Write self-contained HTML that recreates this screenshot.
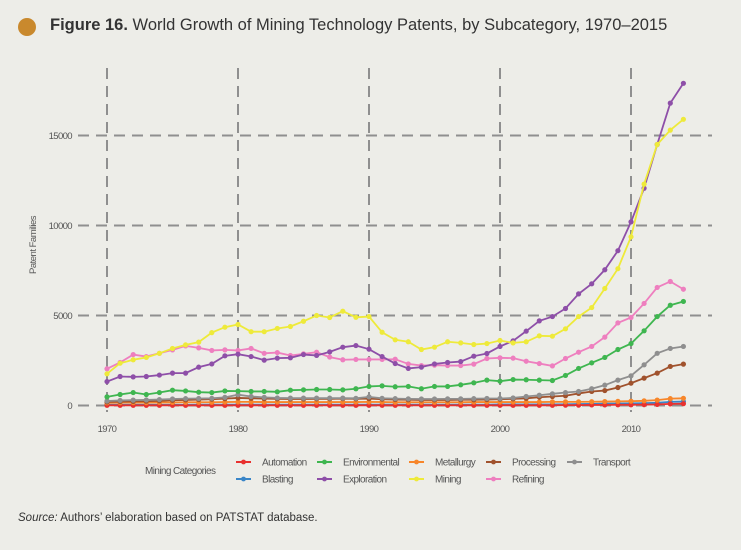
<!DOCTYPE html>
<html><head><meta charset="utf-8"><style>
html,body{margin:0;padding:0;background:#edede8;}
body{width:741px;height:550px;background:#edede8;position:relative;overflow:hidden;font-family:"Liberation Sans",sans-serif;}
.t{position:absolute;left:50px;top:16px;font-size:16.5px;color:#333;}
.dot{position:absolute;left:18px;top:18px;width:18px;height:18px;border-radius:50%;background:#c9892d;}
.src{position:absolute;left:18px;top:512px;font-size:11.5px;color:#333;}
svg text{font-family:"Liberation Sans",sans-serif;fill:#555;}
</style></head><body>
<div class="dot"></div>
<div class="t"><b>Figure 16.</b> World Growth of Mining Technology Patents, by Subcategory, 1970–2015</div>
<svg id="c" width="741" height="550" style="position:absolute;left:0;top:0"></svg>
<div class="src"><i>Source:</i> Authors’ elaboration based on PATSTAT database.</div>
<script>
const years=[];for(let y=1970;y<=2014;y++)years.push(y);
const xTicks=[1970,1980,1990,2000,2010];
const yTicks=[0,5000,10000,15000];
const seriesNames=["Automation","Blasting","Environmental","Exploration","Metallurgy","Mining","Processing","Refining","Transport"];
const colors=["#e8312f","#3a86c8","#3fb650","#8e4fa8","#f7862a","#eeea3a","#a0522d","#ee7fbf","#8f8f8f"];
const automation=[10,10,10,10,10,10,10,10,10,10,10,10,10,10,10,10,10,10,10,10,10,10,10,10,10,10,10,10,10,10,10,10,10,10,10,20,20,30,30,40,40,50,60,90,100];
const blasting=[40,40,40,40,40,40,40,50,50,50,50,50,50,50,50,50,50,50,50,50,50,50,50,50,50,50,50,50,50,50,60,60,60,60,60,70,80,90,100,110,120,130,150,200,220];
const environmental=[480,610,720,610,720,850,810,740,720,810,800,780,780,760,850,870,890,890,870,930,1060,1090,1040,1060,930,1060,1060,1150,1260,1410,1350,1440,1430,1410,1390,1670,2060,2370,2670,3110,3440,4150,4940,5570,5780];
const exploration=[1330,1610,1590,1610,1690,1800,1800,2130,2310,2760,2850,2720,2520,2630,2650,2830,2780,2980,3240,3330,3130,2720,2330,2060,2130,2310,2390,2440,2740,2890,3280,3590,4130,4700,4940,5390,6200,6760,7540,8600,10200,12070,14500,16800,17900];
const metallurgy=[150,160,160,160,170,170,180,180,180,190,200,200,190,190,190,190,190,190,190,190,200,190,180,180,180,180,180,180,190,190,190,190,190,190,200,200,200,210,220,230,240,260,300,380,400];
const mining=[1760,2350,2540,2670,2900,3170,3370,3520,4050,4350,4500,4100,4100,4280,4390,4680,5000,4890,5240,4900,4940,4070,3650,3540,3110,3240,3540,3480,3390,3440,3610,3480,3540,3870,3850,4260,4940,5440,6500,7600,9370,12300,14500,15300,15900];
const processing=[200,220,230,240,260,290,310,330,350,380,420,400,380,370,360,360,370,370,380,370,380,350,330,320,310,310,310,320,320,330,350,370,400,460,500,540,670,780,830,1000,1240,1520,1800,2170,2300];
const refining=[2040,2390,2830,2720,2900,3090,3310,3200,3060,3090,3060,3170,2900,2940,2780,2870,2960,2690,2540,2560,2560,2560,2570,2310,2220,2240,2220,2220,2300,2610,2650,2630,2460,2330,2200,2610,2960,3280,3800,4590,4890,5670,6560,6890,6460];
const transport=[250,280,300,310,330,360,380,390,400,450,600,500,450,420,410,410,410,410,410,400,480,400,380,370,360,360,370,370,380,390,390,420,500,570,650,720,780,930,1130,1410,1650,2260,2900,3170,3280];
const data=[automation,blasting,environmental,exploration,metallurgy,mining,processing,refining,transport];
const drawOrder=[1,0,4,6,8,2,7,3,5];
const X=y=>107+(y-1970)*13.1;
const Y=v=>405.5-v*0.018;
const svg=document.getElementById('c');const NS='http://www.w3.org/2000/svg';
function mk(t,a,p){const e=document.createElementNS(NS,t);for(const k in a)e.setAttribute(k,a[k]);(p||svg).appendChild(e);return e;}
const grid=mk('g',{});


xTicks.forEach(t=>{const l=mk('line',{x1:X(t),x2:X(t),y1:68,y2:412,stroke:'#8f8f8f','stroke-width':2,'stroke-dasharray':'11,7'},grid);


const tx=mk('text',{x:X(t),y:432,'text-anchor':'middle','font-size':9.5,'letter-spacing':'-0.6'},svg);tx.textContent=t;

});
yTicks.forEach(t=>{const l=mk('line',{x1:78,x2:712,y1:Y(t),y2:Y(t),stroke:'#8f8f8f','stroke-width':2,'stroke-dasharray':'11,7'},grid);


const tx=mk('text',{x:72,y:Y(t)+3.5,'text-anchor':'end','font-size':9.5,'letter-spacing':'-0.6'},svg);tx.textContent=t;

});
const at=mk('text',{x:0,y:0,transform:'translate(36,245) rotate(-90)','text-anchor':'middle','font-size':9.5,'letter-spacing':'-0.5'});at.textContent='Patent Families';


drawOrder.forEach(i=>{const g=mk('g',{});


mk('polyline',{points:data[i].map((v,j)=>X(years[j])+','+Y(v)).join(' '),fill:'none',stroke:colors[i],'stroke-width':1.8},g);
data[i].forEach((v,j)=>{const c=mk('circle',{cx:X(years[j]),cy:Y(v),r:2.6,fill:colors[i]},g);

});});
const lg=mk('g',{});


const lt=mk('text',{x:145,y:474,'font-size':10,'letter-spacing':'-0.6'},lg);lt.textContent='Mining Categories';


const colX=[236,317,409,486,567];
seriesNames.forEach((n,i)=>{const col=Math.floor(i/2),row=i%2;const x=colX[col],y=row?479:462;
const e=mk('g',{},lg);


mk('line',{x1:x,x2:x+15,y1:y,y2:y,stroke:colors[i],'stroke-width':2},e);
mk('circle',{cx:x+7.5,cy:y,r:2.4,fill:colors[i]},e);
const t=mk('text',{x:x+26,y:y+3.5,'font-size':10,'letter-spacing':'-0.6'},e);t.textContent=n;});
</script>
</body></html>
